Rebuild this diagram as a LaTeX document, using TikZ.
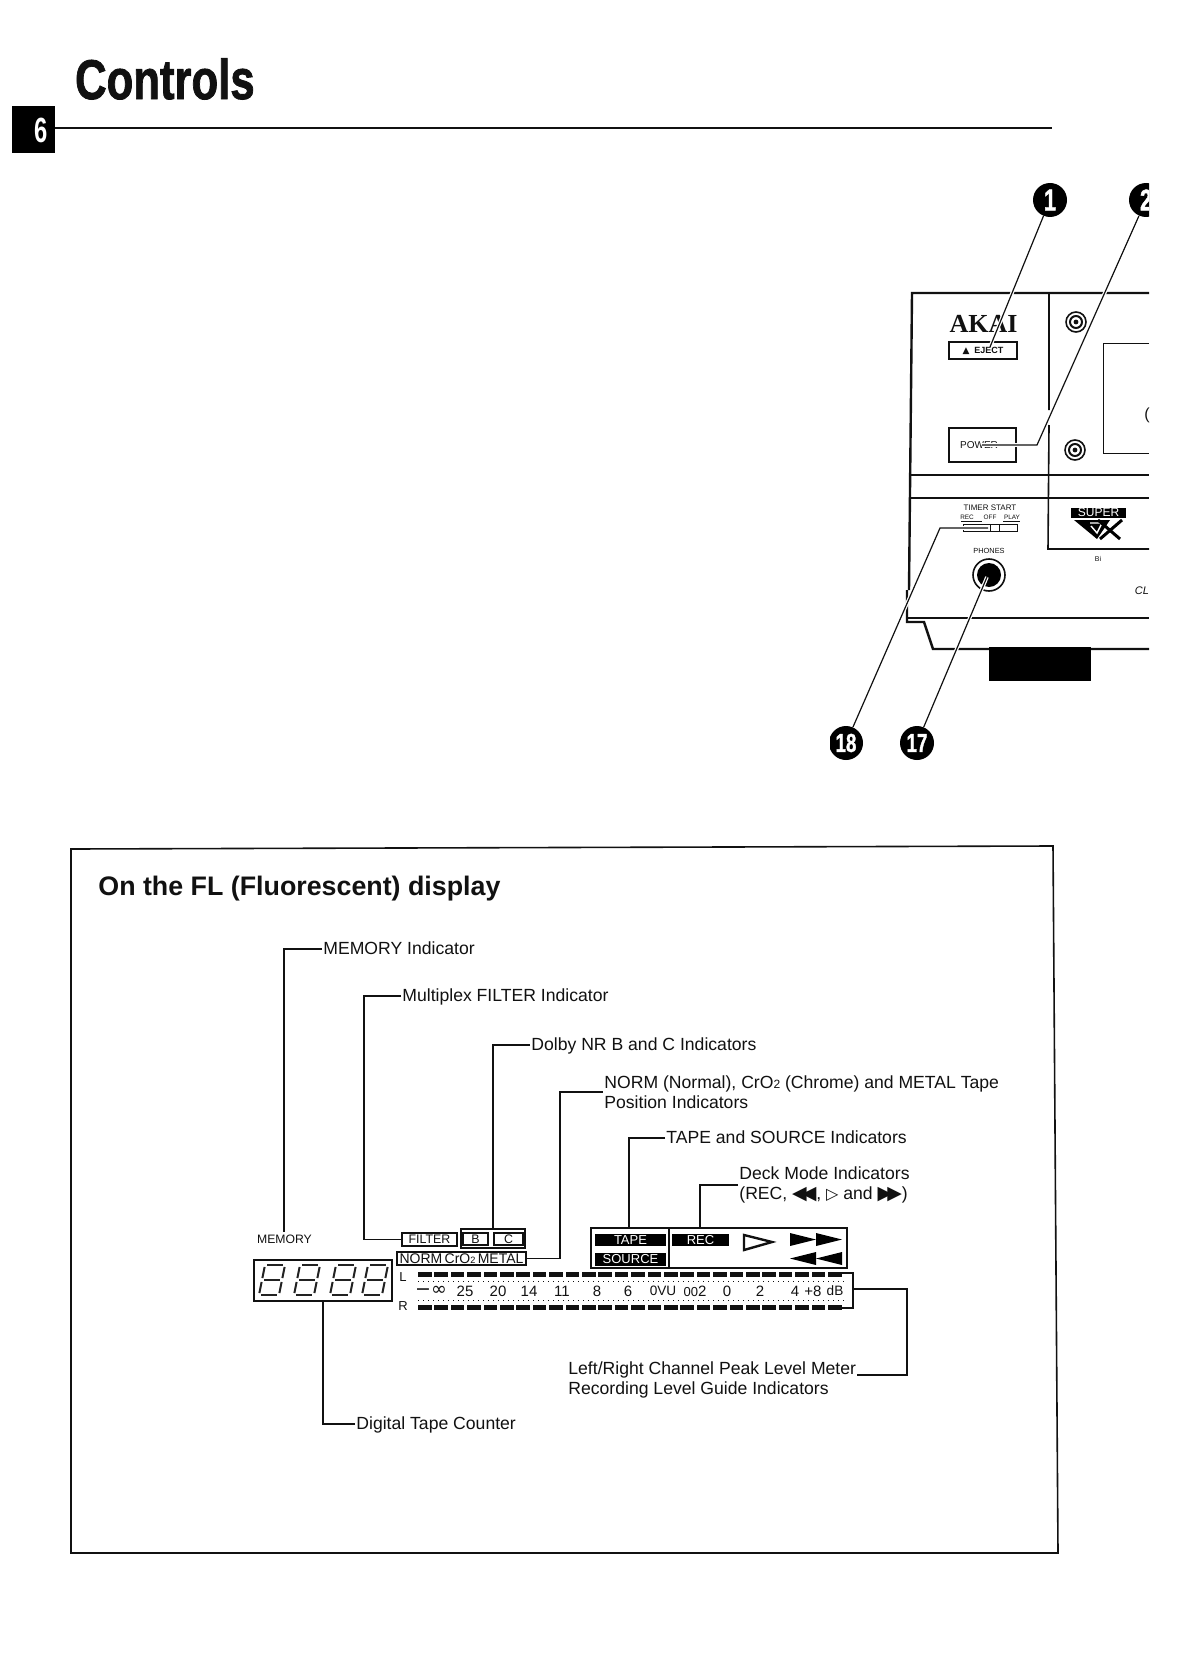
\documentclass[tikz,border=0pt]{standalone}
\usepackage{xcolor}
\usepackage{fontspec}
\usetikzlibrary{positioning}
\setmainfont{Liberation Sans}
\newfontfamily\logofont{Liberation Serif}
\newfontfamily\symfont{DejaVu Sans}
\newfontfamily\heavyfont[FakeBold=1.6]{Liberation Sans Bold}
\definecolor{PInk}{HTML}{111111}
\definecolor{PGrey}{HTML}{222222}
\newcommand{\fsz}[1]{\fontsize{#1}{#1}\selectfont}
\newcommand{\callnum}[2]{\scalebox{.72}[1]{\heavyfont\fsz{#1}#2}}

\begin{document}
\begin{tikzpicture}[
  x=0.5pt,y=-0.5pt,
  every node/.style={font=\fsz{8.8},text=PInk,inner sep=0.5pt},
  label/.style={anchor=west,text height=7pt,text depth=2pt},
  multi/.style={anchor=west,align=left,font=\fontsize{8.8}{10.2}\selectfont},
  lead/.style={draw=PInk,line width=0.6pt},
  callline/.style={draw=PInk,line width=0.6pt,preaction={draw=white,line width=1.8pt}},
  callout/.style={circle,fill=black,text=white,minimum size=17pt,inner sep=0pt},
  panel/.style={draw=PInk,line width=0.8pt},
  thin panel/.style={draw=PInk,line width=0.5pt},
  dispbox/.style={draw=PInk,line width=0.7pt,inner sep=0pt,font=\fsz{6.2}},
  blackbox/.style={fill=black,text=white,inner sep=0pt,font=\fsz{6.5}},
  scaletxt/.style={font=\fsz{7.5}},
  tinytxt/.style={font=\fsz{3.2}},
  seg/.style={draw=PGrey,line width=1pt,shorten >=1pt,shorten <=1pt}
]
  \useasboundingbox (0,0) rectangle (1190,1680);
  \fill[white] (0,0) rectangle (1190,1680);

  % page head
  \node[anchor=west,font=\heavyfont\fsz{28},xscale=.78,transform shape] (title) at (74,79) {Controls};
  \node[fill=black,text=white,minimum width=21.5pt,minimum height=23.5pt,inner sep=0pt] (tab) at (33.5,129.5) {};
  \node[text=white,font=\fsz{17.5}\bfseries,xscale=.68,transform shape] (tabnum) at (41,130) {6};
  \draw[line width=1pt,draw=PInk] (tab.east |- 0,128) -- (1052,128);

  % front panel
  \begin{scope}
    \clip (830,170) rectangle (1149,770);
    \draw[panel,line width=1.2pt] (1149,293) -- (912,293) -- (909,590) (907,590) -- (907,622) -- (924,622) -- (933,649) -- (1149,649);
    \draw[panel] (907,618) -- (1149,618);
    \draw[panel] (1049,293) -- (1049,410) (1049,425) -- (1048,549) -- (1149,549);
    \draw[panel] (911,475) -- (1149,475) (910,498) -- (1149,498);
    \fill[black] (989,647) rectangle (1091,681);
    \draw[thin panel] (1149,343) -- (1103,343) -- (1103,453) -- (1149,453);
    \foreach \px/\py in {1076/322,1075/450}{
      \draw[panel] (\px,\py) circle (5pt);
      \draw[panel,line width=1pt] (\px,\py) circle (3pt);
      \fill[PInk] (\px,\py) circle (1.2pt);
    }
    \node[font=\logofont\fsz{13}\bfseries] (akai) at (983.5,324) {AKAI};
    \node[draw=PInk,line width=0.7pt,minimum width=34pt,minimum height=8.5pt,font=\fsz{4.5}\bfseries,inner sep=0pt] (eject) at (983,350.5) {{\symfont\char"25B2}\ \ EJECT};
    \node[draw=PInk,line width=0.7pt,minimum width=33.5pt,minimum height=17pt,font=\fsz{5},inner sep=0pt] (power) at (982.5,445) {POWER\hspace*{3.5pt}};
    \node[font=\fsz{8}] (bracket) at (1147,415) {(};
    \node[tinytxt,font=\fsz{4}] (timerstart) at (990,508) {TIMER START};
    \foreach \px/\txt/\nm in {967/REC/trec,990/OFF/toff,1012/PLAY/tplay}
      {\node[tinytxt] (\nm) at (\px,517) {\txt};}
    \draw[thin panel] (961,521) -- (982,521) (1003,521) -- (1020,521);
    \draw[thin panel] (963,524) rectangle (1017,531) (990,524) -- (990,531) (999,524) -- (999,531);
    \node[font=\fsz{3.7}] (phones) at (989,551) {PHONES};
    \draw[panel] (989,575) circle (8pt);
    \fill[black] (989,575) circle (6pt);
    \node[fill=black,text=white,minimum width=27.5pt,minimum height=5pt,inner sep=0pt,font=\fsz{6}] (super) at (1098.5,512.5) {SUPER};
    \fill[black] (1074,520) -- (1110,520) -- (1097,539) -- cycle;
    \draw[white,line width=0.7pt] (1090,523) -- (1102,523) -- (1097,533) -- (1091,526);
    \draw[black,line width=1.5pt] (1098,520) -- (1120,539) (1122,520) -- (1100,539);
    \node[font=\fsz{3.5}] (gxnote) at (1098,559) {Bi};
    \node[font=\fsz{5.5}\itshape] (model) at (1142,591) {CL};

    \node[callout] (c1) at (1050,200) {\callnum{15}{1}};
    \node[callout] (c2) at (1146,200) {\callnum{15}{2}};
    \node[callout] (c18) at (846,743) {\callnum{13}{18}};
    \node[callout] (c17) at (917,743) {\callnum{13}{17}};
    \coordinate (ejecttip) at (990,347);
    \coordinate (powerbend) at (1037,445);
    \coordinate (powertip) at (982,445);
    \coordinate (timerbend) at (940,528);
    \coordinate (timertip) at (988,528);
    \coordinate (jacktip) at (987,577);
    \draw[callline] (c1) -- (ejecttip);
    \draw[callline] (c2) -- (powerbend) -- (powertip);
    \draw[callline] (c18) -- (timerbend) -- (timertip);
    \draw[callline] (c17) -- (jacktip);
  \end{scope}

  % display panel
  \draw[panel] (71,849) -- (1053,846) -- (1058,1553) -- (71,1553) -- cycle;
  \node[anchor=west,font=\fsz{13.4}\bfseries] (heading) at (97,889) {On the FL (Fluorescent) display};

  \node[label] (memlabel) at (322,949) {MEMORY Indicator};
  \node[label] (multilabel) at (401,996) {Multiplex FILTER Indicator};
  \node[label] (dolbylabel) at (530,1045) {Dolby NR B and C Indicators};
  \node[multi] (normlabel) at (603,1092) {NORM (Normal), CrO{\fsz{6}2} (Chrome) and METAL Tape\\Position Indicators};
  \node[label] (tapelabel) at (665,1138) {TAPE and SOURCE Indicators};
  \node[multi] (decklabel) at (738,1185) {Deck Mode Indicators\\(REC, {\symfont\fsz{9.5}\char"25C0\kern-2.5pt\char"25C0}, {\symfont\fsz{8}\char"25B7} and {\symfont\fsz{9.5}\char"25B6\kern-2.5pt\char"25B6})};
  \node[multi] (meterlabel) at (567,1380) {Left/Right Channel Peak Level Meter\\Recording Level Guide Indicators};
  \node[label] (counterlabel) at (355,1424) {Digital Tape Counter};

  \node[font=\fsz{6.1}] (memtxt) at (284.5,1239) {MEMORY};
  \node[dispbox,minimum width=69pt,minimum height=20.5pt] (counterbox) at (323,1280.5) {};
  \foreach \dx in {272,307,343,375}{
    \begin{scope}[shift={(\dx,1280)}]
      \foreach \a/\b/\c/\d in {-7/-15/13/-15,-10/0/10/0,-13/15/7/15,-7/-15/-10/0,13/-15/10/0,-10/0/-13/15,10/0/7/15}
        {\draw[seg] (\a,\b) -- (\c,\d);}
    \end{scope}
  }

  \node[dispbox,minimum width=27.5pt,minimum height=6.5pt] (filterbox) at (429.5,1239.5) {FILTER};
  \node[dispbox,minimum width=32pt,minimum height=9.5pt,line width=0.9pt] (nrbox) at (493,1238.5) {};
  \node[dispbox,minimum width=12.5pt,minimum height=6pt] (bbox) at (475.5,1239) {B};
  \node[dispbox,minimum width=14.5pt,minimum height=6pt] (cbox) at (508.5,1239) {C};
  \node[dispbox,minimum width=64.5pt,minimum height=6.5pt,line width=0.9pt,font=\fsz{7}] (normbox) at (461.5,1258.5) {NORM\,CrO{\fsz{4.6}2}\,METAL};

  \node[draw=PInk,line width=0.9pt,minimum width=128pt,minimum height=20pt,inner sep=0pt] (deckbox) at (719,1248) {};
  \draw[PInk,line width=0.8pt] (669,1228) -- (669,1268);
  \node[blackbox,minimum width=35.5pt,minimum height=6pt] (tapebox) at (630.5,1240) {TAPE};
  \node[blackbox,minimum width=35.5pt,minimum height=6.5pt] (sourcebox) at (630.5,1259.5) {SOURCE};
  \node[blackbox,minimum width=28.5pt,minimum height=6pt] (recbox) at (700.5,1240) {REC};
  \draw[PInk,line width=1.2pt] (744,1235) -- (744,1250) -- (772,1242) -- cycle;
  \fill[black] (790,1233) -- (790,1246) -- (816,1239.5) -- cycle (816,1233) -- (816,1246) -- (842,1239.5) -- cycle;
  \fill[black] (816,1252) -- (816,1265) -- (790,1258.5) -- cycle (842,1252) -- (842,1265) -- (816,1258.5) -- cycle;

  % level meter
  \node[font=\fsz{6.5}] (lch) at (403,1277) {L};
  \node[font=\fsz{6.5}] (rch) at (403,1306) {R};
  \foreach \i in {0,...,25}{
    \fill[PInk] (418+16.4*\i,1271.5) rectangle +(13.5,5.5);
    \fill[PInk] (418+16.4*\i,1304.5) rectangle +(13.5,5.5);
  }
  \draw[PInk,line width=0.5pt,dotted] (418,1281) -- (845,1281) (418,1300) -- (845,1300);
  \foreach \px/\txt/\nm in {465/25/s25,498/20/s20,529/14/s14,562/11/s11,597/8/s8,628/6/s6,727/0/s0,760/2/s2,795/4/s4,813/+8/s8p}
    {\node[scaletxt] (\nm) at (\px,1291) {\txt};}
  \node[scaletxt] (sinf) at (431,1291) {{\symfont\fsz{9.5}−∞}};
  \node[font=\fsz{6.8}] (s0vu) at (663,1291) {0VU};
  \node[scaletxt] (s002) at (695,1291) {{\fsz{6.5}00}2};
  \node[font=\fsz{6.8}] (sdb) at (835,1291) {dB};
  \draw[lead] (842,1273) -- (853,1273) -- (853,1308) -- (842,1308);

  % leaders
  \coordinate (memtip) at (284,1232);
  \coordinate (filtbend) at (364,1239.5);
  \coordinate (normbend) at (560,1092);
  \coordinate (tapetop) at (629,1228);
  \coordinate (rectop) at (700,1228);
  \coordinate (meterbrk) at (853,1289);
  \coordinate (meterbend) at (907,1375);
  \coordinate (meterend) at (857,1375);
  \draw[lead] (memlabel.west) -| (memtip);
  \draw[lead] (multilabel.west) -| (filtbend) -- (filterbox.west);
  \draw[lead] (dolbylabel.west) -| (nrbox.north);
  \draw[lead] (normbox.east) -| (normbend) -- (normlabel.west);
  \draw[lead] (tapelabel.west) -| (tapetop);
  \draw[lead] (decklabel.west) -| (rectop);
  \draw[lead] (meterbrk) -| (meterbend) -- (meterend);
  \draw[lead] (counterlabel.west) -| (counterbox.south);
\end{tikzpicture}
\end{document}
